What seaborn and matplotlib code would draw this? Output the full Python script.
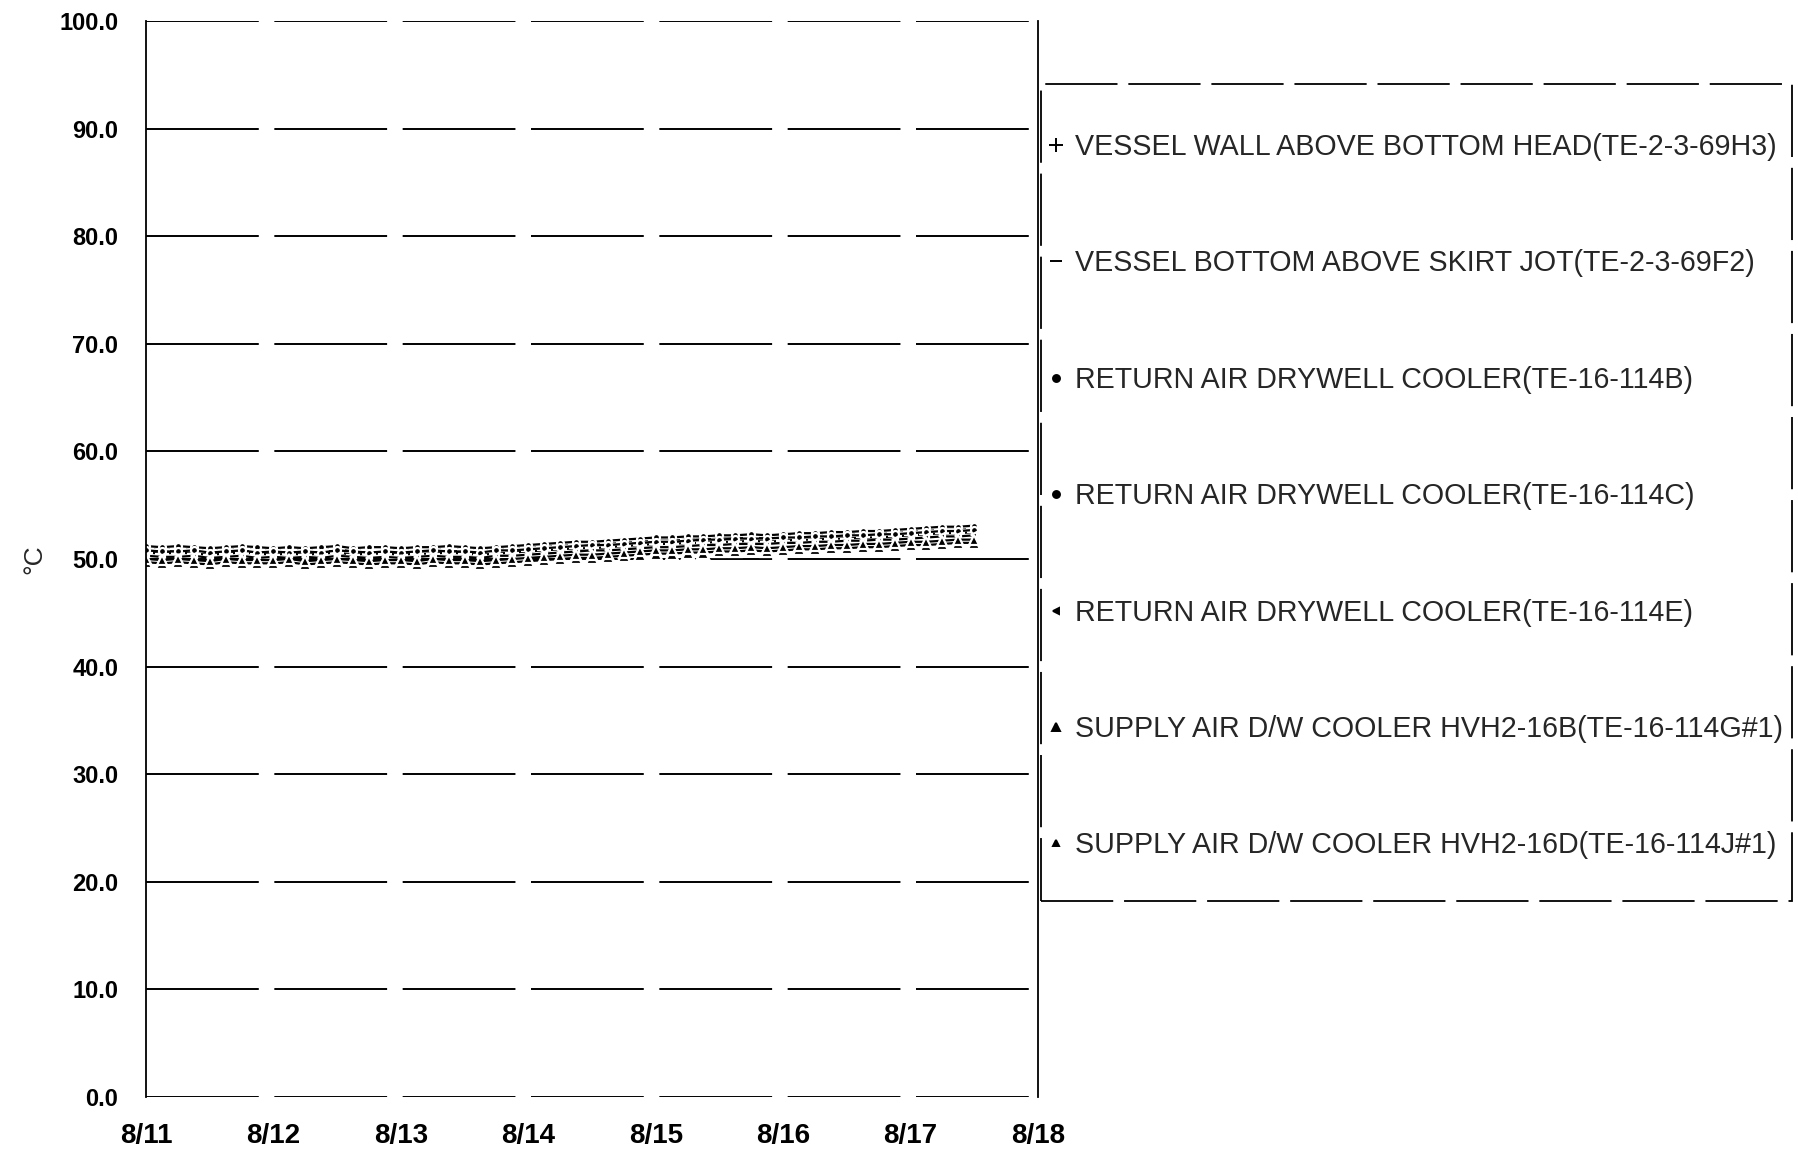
import numpy as np
import pandas as pd
import matplotlib
matplotlib.use("Agg")
import matplotlib.pyplot as plt
from matplotlib.lines import Line2D
from matplotlib.patches import Rectangle
import seaborn as sns

# ---------------- data ----------------
series_names = [
    "VESSEL WALL ABOVE BOTTOM HEAD(TE-2-3-69H3)",
    "VESSEL BOTTOM ABOVE SKIRT JOT(TE-2-3-69F2)",
    "RETURN AIR DRYWELL COOLER(TE-16-114B)",
    "RETURN AIR DRYWELL COOLER(TE-16-114C)",
    "RETURN AIR DRYWELL COOLER(TE-16-114E)",
    "SUPPLY AIR D/W COOLER HVH2-16B(TE-16-114G#1)",
    "SUPPLY AIR D/W COOLER HVH2-16D(TE-16-114J#1)",
]
start_time = "2011-08-11 00:00"
sample_step = "3h"

vessel_wall = [50.9, 50.8, 50.9, 50.8, 50.7, 50.8, 50.9, 50.8,
               50.7, 50.8, 50.7, 50.8, 50.9, 50.7, 50.8, 50.8,
               50.7, 50.8, 50.8, 50.9, 50.8, 50.7, 50.8, 50.9,
               51.0, 51.1, 51.2, 51.3, 51.3, 51.4, 51.5, 51.6,
               51.7, 51.7, 51.8, 51.8, 51.9, 51.9, 52.0, 51.9,
               52.0, 52.1, 52.1, 52.2, 52.2, 52.3, 52.3, 52.4,
               52.5, 52.6, 52.7, 52.7, 52.8]
vessel_bottom = [50.6, 50.5, 50.6, 50.5, 50.4, 50.5, 50.6, 50.5,
                 50.4, 50.5, 50.4, 50.5, 50.6, 50.4, 50.5, 50.5,
                 50.4, 50.5, 50.5, 50.6, 50.5, 50.4, 50.5, 50.6,
                 50.7, 50.8, 50.9, 51.0, 51.0, 51.1, 51.2, 51.3,
                 51.4, 51.4, 51.5, 51.5, 51.6, 51.6, 51.7, 51.6,
                 51.7, 51.8, 51.8, 51.9, 51.9, 52.0, 52.0, 52.1,
                 52.2, 52.3, 52.4, 52.4, 52.5]
return_b = [51.2, 51.1, 51.2, 51.1, 51.0, 51.1, 51.2, 51.1,
            51.0, 51.1, 51.0, 51.1, 51.2, 51.0, 51.1, 51.1,
            51.0, 51.1, 51.1, 51.2, 51.1, 51.0, 51.1, 51.2,
            51.3, 51.4, 51.5, 51.6, 51.6, 51.7, 51.8, 51.9,
            52.0, 52.0, 52.1, 52.1, 52.2, 52.2, 52.3, 52.2,
            52.3, 52.4, 52.4, 52.5, 52.5, 52.6, 52.6, 52.7,
            52.8, 52.9, 53.0, 53.0, 53.1]
return_c = [50.8, 50.7, 50.7, 50.8, 50.6, 50.7, 50.8, 50.6,
            50.7, 50.6, 50.7, 50.6, 50.8, 50.7, 50.6, 50.7,
            50.6, 50.7, 50.8, 50.7, 50.7, 50.6, 50.8, 50.8,
            50.9, 51.0, 51.1, 51.2, 51.3, 51.3, 51.4, 51.5,
            51.6, 51.6, 51.7, 51.8, 51.8, 51.9, 51.9, 51.9,
            52.0, 52.0, 52.1, 52.1, 52.2, 52.2, 52.3, 52.3,
            52.4, 52.5, 52.6, 52.6, 52.7]
return_e = [50.3, 50.2, 50.2, 50.3, 50.1, 50.2, 50.3, 50.1,
            50.2, 50.1, 50.2, 50.1, 50.3, 50.2, 50.1, 50.2,
            50.1, 50.2, 50.3, 50.2, 50.2, 50.1, 50.3, 50.3,
            50.4, 50.5, 50.6, 50.7, 50.8, 50.8, 50.9, 51.0,
            51.1, 51.1, 51.2, 51.3, 51.3, 51.4, 51.4, 51.4,
            51.5, 51.5, 51.6, 51.6, 51.7, 51.7, 51.8, 51.8,
            51.9, 52.0, 52.1, 52.1, 52.2]
supply_g = [49.7, 49.6, 49.7, 49.6, 49.5, 49.7, 49.6, 49.6,
            49.6, 49.7, 49.5, 49.6, 49.7, 49.6, 49.5, 49.6,
            49.6, 49.5, 49.7, 49.6, 49.6, 49.5, 49.6, 49.7,
            49.8, 49.9, 50.0, 50.1, 50.1, 50.2, 50.3, 50.4,
            50.5, 50.5, 50.6, 50.6, 50.7, 50.7, 50.8, 50.7,
            50.8, 50.9, 50.9, 51.0, 51.0, 51.1, 51.1, 51.2,
            51.3, 51.3, 51.4, 51.5, 51.5]
supply_j = [50.0, 49.9, 50.0, 49.9, 49.8, 50.0, 49.9, 49.9,
            49.9, 50.0, 49.8, 49.9, 50.0, 49.9, 49.8, 49.9,
            49.9, 49.8, 50.0, 49.9, 49.9, 49.8, 49.9, 50.0,
            50.1, 50.2, 50.3, 50.4, 50.4, 50.5, 50.6, 50.7,
            50.8, 50.8, 50.9, 50.9, 51.0, 51.0, 51.1, 51.0,
            51.1, 51.2, 51.2, 51.3, 51.3, 51.4, 51.4, 51.5,
            51.6, 51.6, 51.7, 51.8, 51.8]

y_ticks = [0, 10, 20, 30, 40, 50, 60, 70, 80, 90, 100]
x_tick_dates = ["2011-08-11", "2011-08-12", "2011-08-13", "2011-08-14",
                "2011-08-15", "2011-08-16", "2011-08-17", "2011-08-18"]
x_tick_labels = ["8/11", "8/12", "8/13", "8/14", "8/15", "8/16", "8/17", "8/18"]

# ---------------- style ----------------
sns.set_theme(style="white")
plt.rcParams["font.family"] = ["Liberation Sans Narrow", "Liberation Sans", "DejaVu Sans"]

all_values = [vessel_wall, vessel_bottom, return_b, return_c, return_e, supply_g, supply_j]
times = pd.date_range(start_time, periods=len(return_b), freq=sample_step)
df = pd.concat([pd.DataFrame({"time": times, "temp": v, "series": n})
                for n, v in zip(series_names, all_values)], ignore_index=True)

marker_styles = ["+", "_", "o", "o", "<", "^", "^"]
marker_sizes = [12, 10, 5, 5, 4, 9, 7]
legend_sizes = [10, 9, 5, 5, 4, 6, 5]

fig = plt.figure(figsize=(17.98, 11.61), dpi=100)
ax = fig.add_axes([146 / 1798, 1 - 1097 / 1161, (1038 - 146) / 1798, (1097 - 21) / 1161])

for name, m, ms in zip(series_names, marker_styles, marker_sizes):
    sub = df[df["series"] == name]
    sns.lineplot(data=sub, x="time", y="temp", color="black", marker=m,
                 markersize=ms, markeredgewidth=1.6, linewidth=1.6,
                 legend=False, ax=ax)

ax.set_xlim(pd.Timestamp(x_tick_dates[0]), pd.Timestamp(x_tick_dates[-1]))
ax.set_ylim(0, 100)
ax.set_yticks(y_ticks)
ax.set_yticklabels([f"{v:.1f}" for v in y_ticks])
ax.set_xticks([pd.Timestamp(d) for d in x_tick_dates])
ax.set_xticklabels(x_tick_labels)
ax.set_xlabel("")
ax.set_ylabel("°C", fontsize=19)
ax.yaxis.set_label_coords(-0.112, 0.5)

ax.yaxis.grid(True, color="black", linestyle=(0, (58, 8)), linewidth=1.4)
ax.xaxis.grid(False)
for side in ["top", "bottom"]:
    ax.spines[side].set_visible(False)
for side in ["left", "right"]:
    ax.spines[side].set_color("black")
    ax.spines[side].set_linewidth(1.3)
ax.tick_params(axis="both", length=0, colors="black")
ax.tick_params(axis="y", pad=20, labelsize=17)
ax.tick_params(axis="x", pad=19, labelsize=20)
for lbl in ax.get_xticklabels() + ax.get_yticklabels():
    lbl.set_fontweight("bold")

# legend box
fig.patches.append(Rectangle((1041 / 1798, 1 - 901 / 1161), (1792 - 1041) / 1798,
                             (901 - 84) / 1161, transform=fig.transFigure,
                             fill=False, edgecolor="black", linewidth=1.3,
                             linestyle=(0, (40, 6))))
handles = [Line2D([], [], color="black", marker=m, linestyle="None",
                  markersize=ms, markeredgewidth=1.4)
           for m, ms in zip(marker_styles, legend_sizes)]
fig.legend(handles, series_names, loc="upper left",
           bbox_to_anchor=(1045 / 1798, 1 - 133 / 1161),
           bbox_transform=fig.transFigure, frameon=False, fontsize=20.6,
           borderpad=0, borderaxespad=0, labelspacing=3.09,
           handlelength=0.8, handletextpad=0.25)

fig.savefig("out.png", dpi=100)
